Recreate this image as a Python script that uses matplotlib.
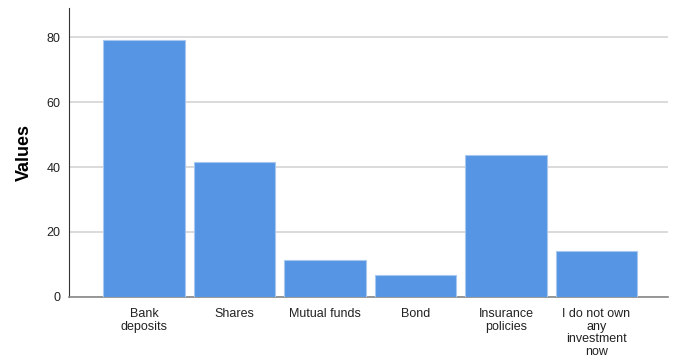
import matplotlib
matplotlib.use("Agg")
import matplotlib.pyplot as plt

plt.rcParams['font.family'] = ['Liberation Sans', 'DejaVu Sans']

categories = ["Bank\ndeposits", "Shares", "Mutual funds", "Bond",
              "Insurance\npolicies", "I do not own\nany\ninvestment\nnow"]
values = [79.0, 41.6, 11.4, 6.8, 43.8, 14.2]

fig = plt.figure(figsize=(6.76, 3.62), dpi=100)
ax = fig.add_axes([0.102, 0.18, 0.886, 0.798])

x = list(range(len(categories)))
ax.bar(x, values, width=0.9, color="#5595e3", edgecolor="#a9c8f0",
       linewidth=0.8, zorder=3)

ax.set_xlim(-0.83, 5.79)
ax.set_ylim(0, 89)
ax.set_yticks([0, 20, 40, 60, 80])
ax.yaxis.grid(True, color="#d4d4d4", linewidth=1.2, zorder=0)
ax.set_axisbelow(True)

ax.set_xticks(x)
ax.set_xticklabels(categories, fontsize=9, linespacing=1.08, va="top")
ax.tick_params(axis="both", length=0, labelsize=9, colors="#222222")
ax.tick_params(axis="x", pad=8)
ax.tick_params(axis="y", pad=6)

ax.set_ylabel("Values", fontsize=13, fontweight="bold", labelpad=10)

for side in ["top", "right"]:
    ax.spines[side].set_visible(False)
ax.spines["left"].set_color("#333333")
ax.spines["bottom"].set_color("#888888")
ax.spines["bottom"].set_linewidth(1.2)

fig.savefig("out.png", dpi=100)
